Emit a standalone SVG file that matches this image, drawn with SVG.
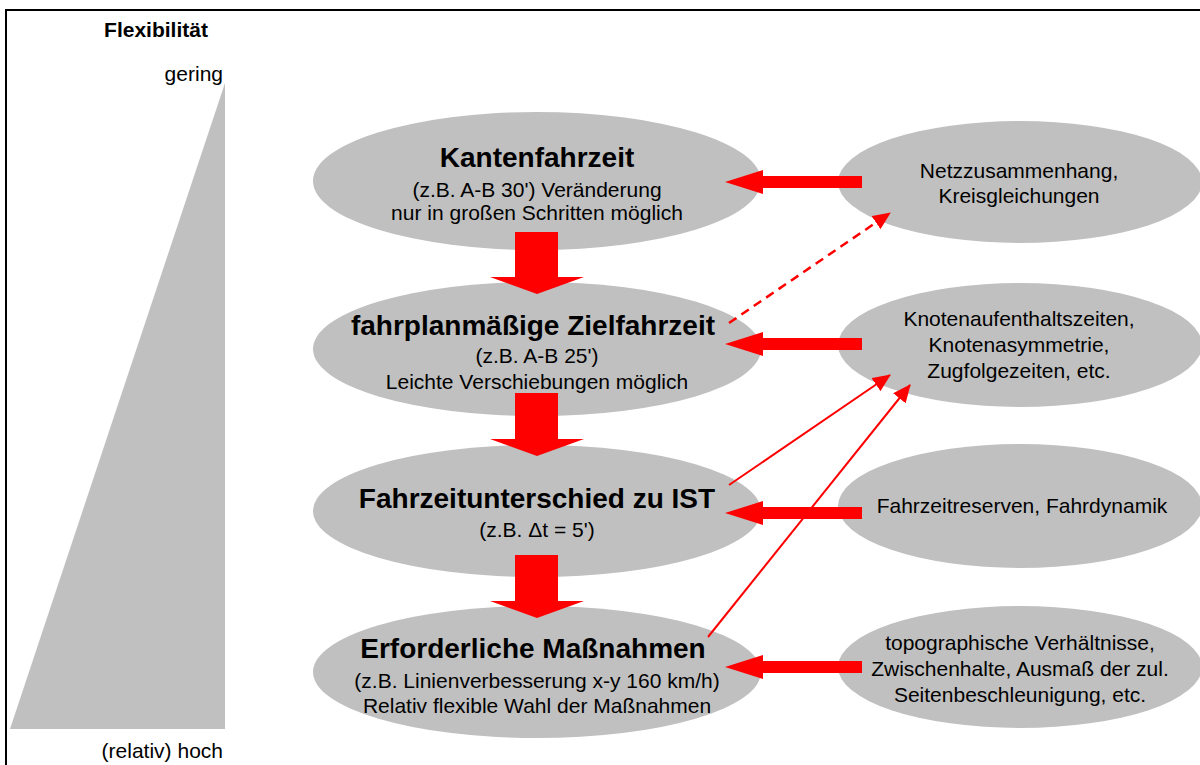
<svg xmlns="http://www.w3.org/2000/svg" width="1200" height="765" viewBox="0 0 1200 765">
  <style>
    text { font-family: "Liberation Sans", Arial, sans-serif; fill: #000; }
    .node { fill: #c0c0c0; }
    .title { font-size: 28px; font-weight: bold; text-anchor: middle; }
    .sub { font-size: 21px; text-anchor: middle; }
    .side { font-size: 21px; text-anchor: middle; }
    .block { fill: #ff0000; }
    .thin { stroke: #ff0000; stroke-width: 2; fill: none; marker-end: url(#head); }
    .dash { stroke-dasharray: 9 6; stroke-width: 2.5; }
  </style>
  <defs>
    <marker id="head" viewBox="0 0 18 16" refX="17" refY="8" markerWidth="18" markerHeight="16" markerUnits="userSpaceOnUse" orient="auto">
      <path d="M0,0 L18,8 L0,16 z" fill="#ff0000"/>
    </marker>
  </defs>

  <rect width="1200" height="765" fill="#ffffff"/>
  <!-- frame -->
  <path d="M6,765 V10 H1200" fill="none" stroke="#000" stroke-width="2"/>

  <!-- flexibility scale -->
  <g id="scale">
    <polygon points="225,83 225,729 10,729" fill="#c0c0c0"/>
    <text x="156" y="37" style="font-size:21px;font-weight:bold;text-anchor:middle">Flexibilität</text>
    <text x="223" y="81" style="font-size:21px;text-anchor:end">gering</text>
    <text x="223" y="758" style="font-size:21px;text-anchor:end">(relativ) hoch</text>
  </g>

  <!-- main chain -->
  <g id="kantenfahrzeit">
    <ellipse class="node" cx="537" cy="181" rx="224" ry="69"/>
    <text class="title" x="537" y="167">Kantenfahrzeit</text>
    <text class="sub" x="537" y="197">(z.B. A-B 30') Veränderung</text>
    <text class="sub" x="537" y="220">nur in großen Schritten möglich</text>
  </g>
  <g id="zielfahrzeit">
    <ellipse class="node" cx="537" cy="349" rx="224" ry="67"/>
    <text class="title" x="533" y="335">fahrplanmäßige Zielfahrzeit</text>
    <text class="sub" x="537" y="363">(z.B. A-B 25')</text>
    <text class="sub" x="537" y="389">Leichte Verschiebungen möglich</text>
  </g>
  <g id="fahrzeitunterschied">
    <ellipse class="node" cx="537" cy="511" rx="224" ry="66"/>
    <text class="title" x="537" y="508">Fahrzeitunterschied zu IST</text>
    <text class="sub" x="537" y="537">(z.B. Δt = 5')</text>
  </g>
  <g id="massnahmen">
    <ellipse class="node" cx="537" cy="672" rx="224" ry="66"/>
    <text class="title" x="533" y="658">Erforderliche Maßnahmen</text>
    <text class="sub" x="537" y="688">(z.B. Linienverbesserung x-y 160 km/h)</text>
    <text class="sub" x="537" y="713">Relativ flexible Wahl der Maßnahmen</text>
  </g>

  <!-- influencing factors -->
  <g id="netz">
    <ellipse class="node" cx="1020" cy="182" rx="182" ry="61"/>
    <text class="side" x="1019" y="178">Netzzusammenhang,</text>
    <text class="side" x="1019" y="203">Kreisgleichungen</text>
  </g>
  <g id="knoten">
    <ellipse class="node" cx="1020" cy="345" rx="182" ry="62"/>
    <text class="side" x="1019" y="326">Knotenaufenthaltszeiten,</text>
    <text class="side" x="1019" y="352">Knotenasymmetrie,</text>
    <text class="side" x="1019" y="378">Zugfolgezeiten, etc.</text>
  </g>
  <g id="reserven">
    <ellipse class="node" cx="1020" cy="506" rx="182" ry="62"/>
    <text class="side" x="1022" y="513">Fahrzeitreserven, Fahrdynamik</text>
  </g>
  <g id="topographie">
    <ellipse class="node" cx="1020" cy="667" rx="182" ry="61"/>
    <text class="side" x="1020" y="650">topographische Verhältnisse,</text>
    <text class="side" x="1020" y="676">Zwischenhalte, Ausmaß der zul.</text>
    <text class="side" x="1020" y="702">Seitenbeschleunigung, etc.</text>
  </g>

  <!-- connectors -->
  <g id="connectors">
    <!-- downward block arrows -->
    <polygon class="block" points="515,232 558,232 558,277 584,277 537,294 490,277 515,277"/>
    <polygon class="block" points="515,393 558,393 558,439 584,439 537,456 490,439 515,439"/>
    <polygon class="block" points="515,555 558,555 558,601 584,601 537,618 490,601 515,601"/>
    <!-- leftward block arrows -->
    <polygon class="block" points="862,176 763,176 763,170 725,182 763,194 763,188 862,188"/>
    <polygon class="block" points="862,338 763,338 763,332 725,344 763,356 763,350 862,350"/>
    <polygon class="block" points="862,507 763,507 763,501 725,513 763,525 763,519 862,519"/>
    <polygon class="block" points="862,661 763,661 763,655 725,667 763,679 763,673 862,673"/>
    <!-- thin arrows -->
    <line class="thin dash" x1="729" y1="323" x2="890" y2="213"/>
    <line class="thin" x1="729" y1="485" x2="890" y2="375"/>
    <line class="thin" x1="708" y1="637" x2="910" y2="385"/>
  </g>
</svg>
